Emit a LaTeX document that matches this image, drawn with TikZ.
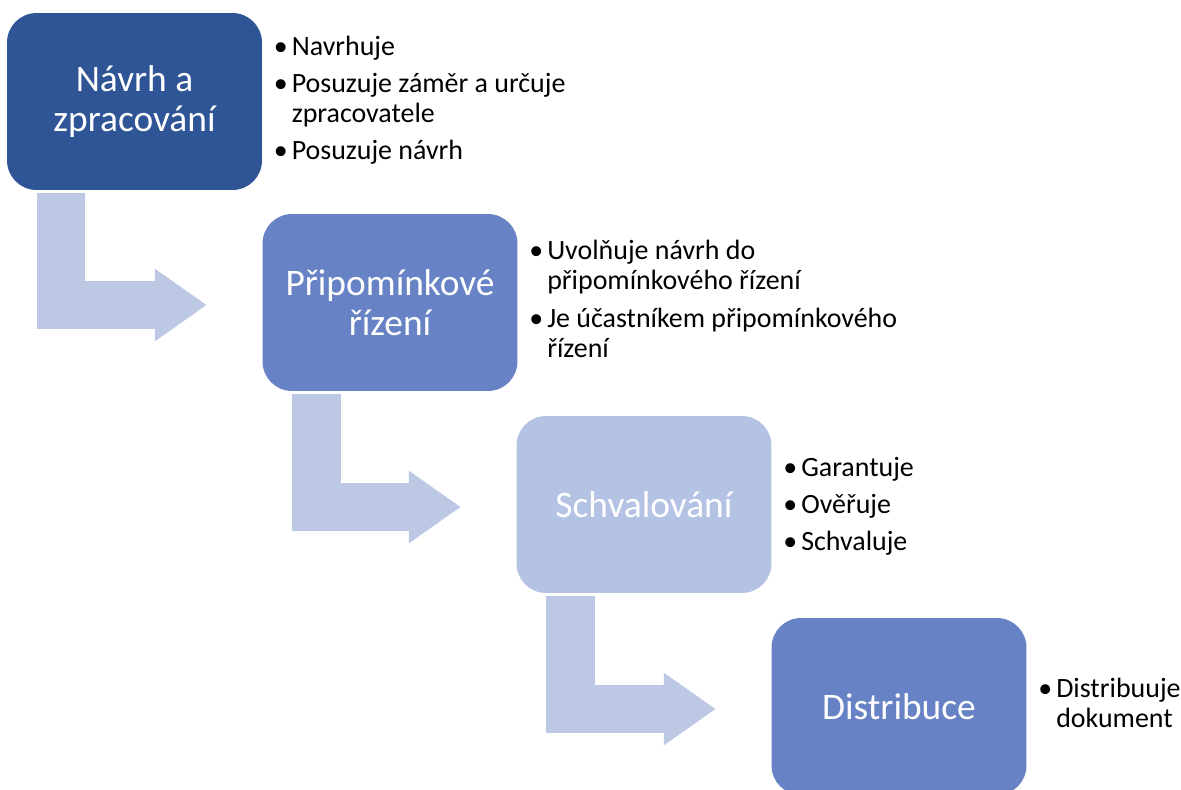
\documentclass[tikz,border=0pt]{standalone}
\usepackage{fontspec}
\setmainfont{Carlito}
\usetikzlibrary{arrows.meta,positioning}

\definecolor{darkstep}{RGB}{47,85,151}
\definecolor{midstep}{RGB}{103,131,197}
\definecolor{palestep}{RGB}{180,194,227}
\definecolor{flowblue}{RGB}{189,200,229}

\newcommand{\bul}{\makebox[8.6pt][l]{\hspace{-1.6pt}\textbullet}}

\begin{document}
\begin{tikzpicture}[x=0.02cm, y=-0.02cm,
	stepbox/.style={rounded corners=0.59cm, minimum width=5.1cm, minimum height=3.54cm, inner sep=0, text=white, align=center, font=\fontsize{21.3}{22.7}\selectfont},
	duties/.style={inner sep=0, font=\fontsize{15.9}{17}\selectfont},
	flow/.style={draw=flowblue, line width=0.97cm, line join=miter, -{Triangle[length=1.03cm, width=1.45cm, line width=0pt]}}]
	\useasboundingbox (0,0) rectangle (1181,789);
	\node [stepbox, fill=darkstep] (b1) at (134.5,101.5) {Návrh a\\zpracování};
	\node [stepbox, fill=midstep] (b2) at (390,302.5) {Připomínkové\\řízení};
	\node [stepbox, fill=palestep] (b3) at (644,504.5) {Schvalování};
	\node [stepbox, fill=midstep] (b4) at (899,706.5) {Distribuce};
	% bent arrows between the steps
	\draw [flow] ([xshift=1.09cm, yshift=-0.054cm]b1.south west) |- ([xshift=-1.115cm, yshift=-0.05cm]b2.west);
	\draw [flow] ([xshift=1.09cm, yshift=-0.054cm]b2.south west) |- ([xshift=-1.115cm, yshift=-0.05cm]b3.west);
	\draw [flow] ([xshift=1.09cm, yshift=-0.054cm]b3.south west) |- ([xshift=-1.115cm, yshift=-0.05cm]b4.west);
	% duties of each step
	\node [duties, right=0.28cm of b1] (d1) {\begin{tabular}{@{}l@{}l@{}}
		\bul & Navrhuje\\[4.3pt]
		\bul & Posuzuje záměr a určuje\\
		& zpracovatele\\[4.3pt]
		\bul & Posuzuje návrh
	\end{tabular}};
	\node [duties, right=0.28cm of b2] (d2) {\begin{tabular}{@{}l@{}l@{}}
		\bul & Uvolňuje návrh do\\
		& připomínkového řízení\\[4.3pt]
		\bul & Je účastníkem připomínkového\\
		& řízení
	\end{tabular}};
	\node [duties, right=0.28cm of b3, yshift=-0.06cm] (d3) {\begin{tabular}{@{}l@{}l@{}}
		\bul & Garantuje\\[4.3pt]
		\bul & Ověřuje\\[4.3pt]
		\bul & Schvaluje
	\end{tabular}};
	\node [duties, right=0.28cm of b4] (d4) {\begin{tabular}{@{}l@{}l@{}}
		\bul & Distribuuje\\
		& dokument
	\end{tabular}};
\end{tikzpicture}
\end{document}
